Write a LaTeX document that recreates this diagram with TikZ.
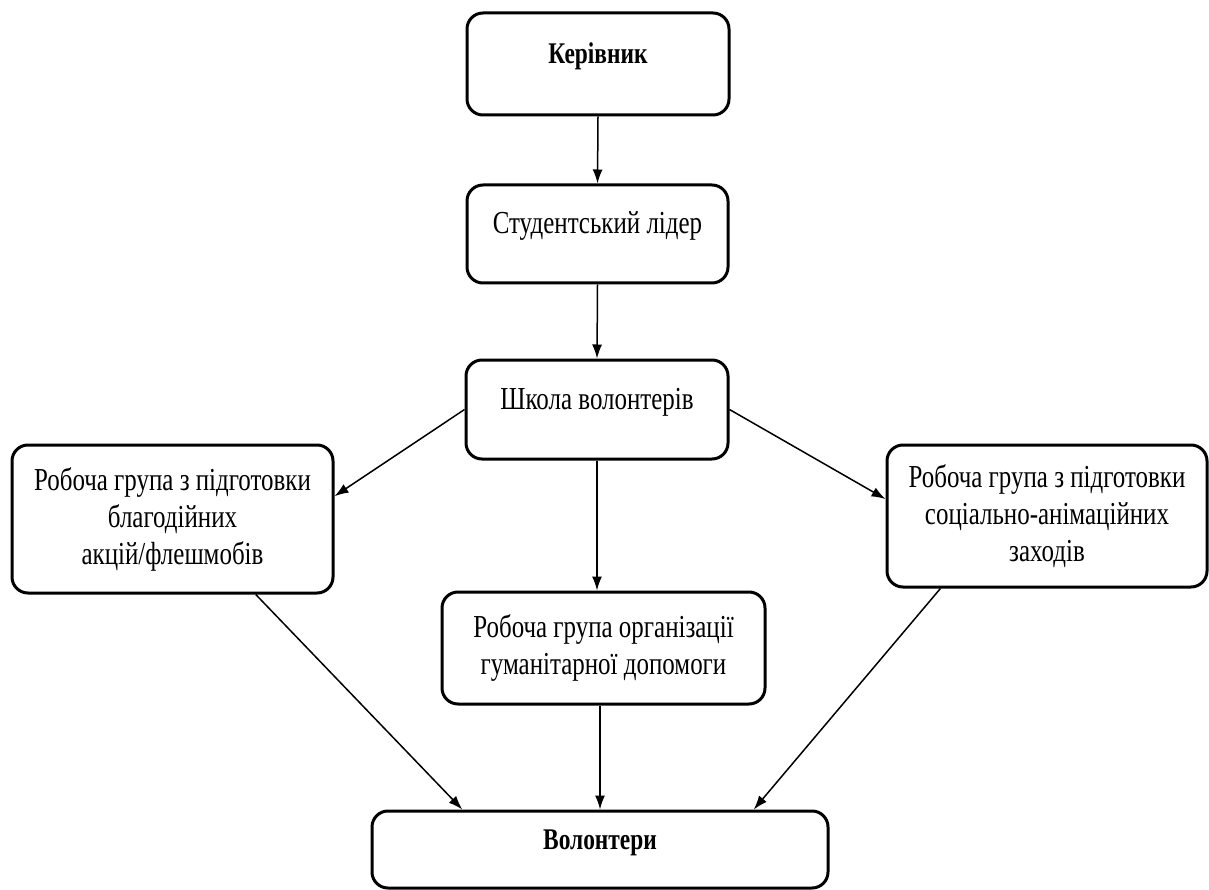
\documentclass[tikz,border=0pt]{standalone}
\usepackage{fontspec}
\setmainfont{Liberation Serif}[FakeStretch=0.78]
\usetikzlibrary{arrows.meta,calc}
\begin{document}
\begin{tikzpicture}[x=1pt,y=-1pt,
  box/.style={draw, line width=3pt, rounded corners=16pt, inner sep=0pt, align=center,
    font=\fontsize{32}{37}\selectfont},
  single/.style={text height=14pt, text depth=14pt},
  boldtxt/.style={font=\fontsize{30}{35}\selectfont\bfseries},
  conn/.style={line width=1.5pt, -{Latex[length=14pt,width=10pt]}}]
\useasboundingbox[fill=white] (0,0) rectangle (1209,890);
\node[box, single, boldtxt, minimum width=262pt, minimum height=102pt] (k) at (598,64) {Керівник};
\node[box, single, minimum width=261pt, minimum height=98pt] (s) at (597.5,234) {Студентський лідер};
\node[box, single, minimum width=262pt, minimum height=99pt] (sh) at (597,409.5) {Школа волонтерів};
\node[box, minimum width=321pt, minimum height=148pt] (l) at (172.5,519) {Робоча група з підготовки\\благодійних\\акцій/флешмобів};
\node[box, minimum width=320pt, minimum height=142pt] (r) at (1047,516) {Робоча група з підготовки\\соціально-анімаційних\\заходів};
\node[box, minimum width=323pt, minimum height=112pt] (mid) at (603.5,648) {Робоча група організації\\гуманітарної допомоги};
\node[box, single, boldtxt, minimum width=456pt, minimum height=77pt] (v) at (600,849.5) {Волонтери};
\draw[conn] (k.south) -- (s.north);
\draw[conn] (s.south) -- (sh.north);
\draw[conn] (sh.west) -- (l.8);
\draw[conn] (sh.east) -- (r.174);
\draw[conn] (sh.south) -- (sh.south |- mid.north);
\draw[conn] ($(l.south west)!0.757!(l.south east)$) -- ($(v.north west)!0.2!(v.north east)$);
\draw[conn] (mid.south -| v.north) -- (v.north);
\draw[conn] ($(r.south west)!0.17!(r.south east)$) -- ($(v.north west)!0.835!(v.north east)$);
\end{tikzpicture}
\end{document}
